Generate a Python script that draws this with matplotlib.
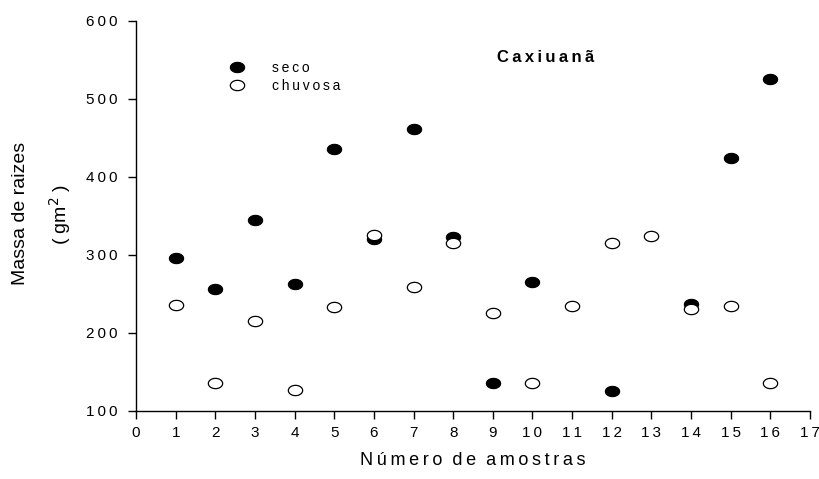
import numpy as np
import matplotlib
matplotlib.use("Agg")
import matplotlib.pyplot as plt
from matplotlib.path import Path

plt.rcParams['font.family'] = ['Liberation Sans', 'DejaVu Sans']

seco_x = [1, 2, 3, 4, 5, 6, 7, 8, 9, 10, 12, 14, 15, 16]
seco_y = [296, 256, 345, 263, 436, 321, 461, 323, 136, 266, 126, 237, 425, 526]
chuvosa_x = [1, 2, 3, 4, 5, 6, 7, 8, 9, 10, 11, 12, 13, 14, 15, 16]
chuvosa_y = [236, 136, 215, 127, 233, 326, 259, 315, 226, 136, 235, 315, 325, 231, 235, 136]
x_ticks = list(range(0, 18))
y_ticks = [100, 200, 300, 400, 500, 600]

TS = '\u2009'
def spaced(s):
    return TS.join(list(s))

t = np.linspace(0, 2 * np.pi, 60)
ellipse = Path(np.column_stack([np.cos(t), 0.72 * np.sin(t)]), closed=True)

fig = plt.figure(figsize=(8.19, 4.79), dpi=100)
ax = fig.add_axes([136/819, 1 - 411/479, (810-136)/819, (411-21)/479])

ax.plot(seco_x, seco_y, linestyle='none', marker=ellipse, markersize=10.3,
        markerfacecolor='black', markeredgecolor='black', markeredgewidth=0.8, label='seco')
ax.plot(chuvosa_x, chuvosa_y, linestyle='none', marker=ellipse, markersize=10.3,
        markerfacecolor='white', markeredgecolor='black', markeredgewidth=0.9, label='chuvosa')

ax.set_xlim(0, 17)
ax.set_ylim(100, 600)
ax.set_xticks(x_ticks)
ax.set_xticklabels([spaced(str(v)) for v in x_ticks])
ax.set_yticks(y_ticks)
ax.set_yticklabels([spaced(str(v)) for v in y_ticks])
for s in ['top', 'right']:
    ax.spines[s].set_visible(False)
for s in ['left', 'bottom']:
    ax.spines[s].set_linewidth(1.0)
ax.tick_params(axis='both', direction='out', length=5.5, width=1.0, labelsize=11)
ax.tick_params(axis='y', pad=8)
ax.tick_params(axis='x', pad=5)

ax.set_xlabel(spaced('Número') + '  ' + spaced('de') + '  ' + spaced('amostras'), fontsize=13, va='center')
ax.xaxis.set_label_coords(0.5, -0.128)

fig.text(21/819, 1 - 213/479, 'Massa de raizes', rotation=90, ha='center', va='center', fontsize=14)
fig.text(60/819, 1 - 214/479, '( gm$^2$ )', rotation=90, ha='center', va='center', fontsize=14)

fig.text(546/819, 1 - 58/479, spaced('Caxiuanã'), fontsize=12, fontweight='bold', ha='center', va='center')

leg = ax.legend(loc='upper left', bbox_to_anchor=(0.121, 0.93), frameon=False, fontsize=10,
                handlelength=1.0, handletextpad=2.0, labelspacing=0.3)
for txt in leg.get_texts():
    txt.set_text(spaced(txt.get_text()))

fig.savefig('out.png', dpi=100)
